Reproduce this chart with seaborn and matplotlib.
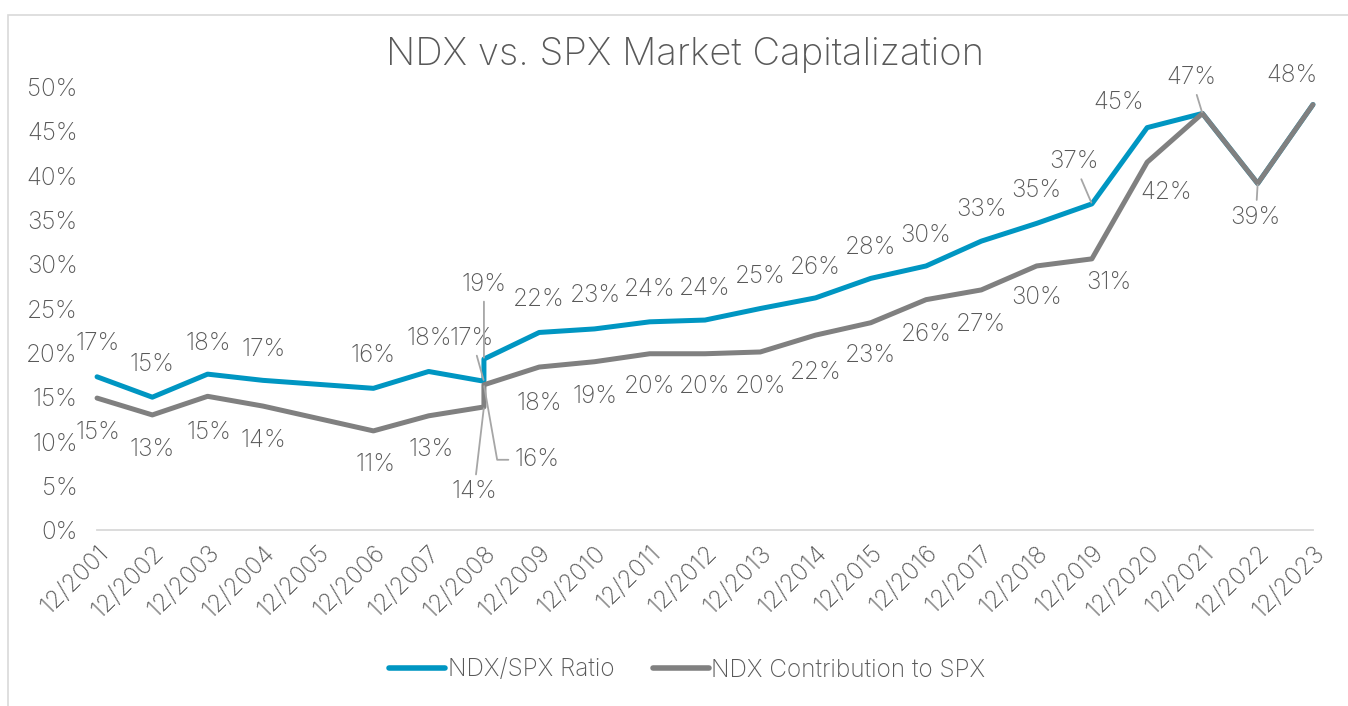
import numpy as np
import pandas as pd
import matplotlib
matplotlib.use("Agg")
import matplotlib.pyplot as plt
import seaborn as sns
from matplotlib.patches import Rectangle
from matplotlib.lines import Line2D

# ─── Данные ──────────────────────────────────────────────────────────────────────
dates = ["12/2001", "12/2002", "12/2003", "12/2004", "12/2006", "12/2007",
         "12/2008", "12/2008", "12/2009", "12/2010", "12/2011", "12/2012",
         "12/2013", "12/2014", "12/2015", "12/2016", "12/2017", "12/2018",
         "12/2019", "12/2020", "12/2021", "12/2022", "12/2023"]
ratio = [17.3, 15.0, 17.6, 16.9, 16.0, 17.9, 16.8, 19.3, 22.3, 22.7, 23.5, 23.7,
         25.0, 26.2, 28.4, 29.8, 32.6, 34.6, 36.8, 45.4, 47.0, 39.1, 48.0]
contribution = [14.9, 13.0, 15.1, 14.0, 11.2, 12.9, 13.9, 16.4, 18.4, 19.0, 19.9, 19.9,
                20.1, 22.0, 23.4, 26.0, 27.1, 29.8, 30.6, 41.5, 47.0, 39.1, 48.0]
tick_labels = [f"12/{y}" for y in range(2001, 2024)]
series_names = ["NDX/SPX Ratio", "NDX Contribution to SPX"]

BLUE = "#0096c2"
GRAY = "#808080"
TEXT = "#595959"
LEADER = "#a6a6a6"
FS = 17.5

# ─── Стиль ───────────────────────────────────────────────────────────────────────
sns.set_style("white")
plt.rcParams["font.family"] = ["Inter", "DejaVu Sans"]
plt.rcParams["font.weight"] = "light"
plt.rcParams["text.color"] = TEXT

years = [int(d.split("/")[1]) for d in dates]
df = pd.concat([
    pd.DataFrame({"year": years, "value": np.array(ratio) / 100, "series": series_names[0]}),
    pd.DataFrame({"year": years, "value": np.array(contribution) / 100, "series": series_names[1]}),
])

fig = plt.figure(figsize=(13.48, 7.06), dpi=100)
ax = fig.add_axes([0.072, 0.249, 0.902, 0.628])

sns.lineplot(data=df, x="year", y="value", hue="series", estimator=None, sort=False,
             palette={series_names[0]: BLUE, series_names[1]: GRAY},
             linewidth=3.6, ax=ax, legend=False,
             solid_capstyle="round", solid_joinstyle="round")

ax.set_xlim(2001, 2023)
ax.set_ylim(0, 0.5)
ax.set_xticks(range(2001, 2024))
ax.set_xticklabels(tick_labels, rotation=45, ha="right", rotation_mode="anchor",
                   fontsize=FS, color=TEXT)
yt = np.arange(0, 0.51, 0.05)
ax.set_yticks(yt)
ax.set_yticklabels([f"{int(round(v * 100))}%" for v in yt], fontsize=FS, color=TEXT)
ax.tick_params(axis="y", length=0, pad=14)
ax.tick_params(axis="x", length=0, pad=8)
ax.set_xlabel("")
ax.set_ylabel("")
for s in ["top", "right", "left"]:
    ax.spines[s].set_visible(False)
ax.spines["bottom"].set_color("#d9d9d9")
ax.spines["bottom"].set_linewidth(1.3)
for ln in ax.get_lines():
    ln.set_clip_on(False)

# ─── Подписи данных (смещения в пикселях; None — без подписи) ────────────────────
blue_off = [(1, 33), (0, 33), (1, 31), (1, 31), (0, 33), (1, 33), (-12, 43), (0, 75),
            (0, 33), (1, 33), (0, 32), (0, 32), (0, 32), (0, 30), (0, 31), (0, 30),
            (0, 32), (0, 33), (-18, 42), (-28, 25), (-11, 36), None, (-21, 29)]
blue_lead = {6, 7, 18, 20}
gray_off = [(1, -34), (0, -35), (1, -36), (1, -34), (2, -34), (2, -34), (-10, -85), (53, -75),
            (0, -36), (1, -35), (0, -33), (0, -33), (0, -35), (0, -37), (0, -33), (0, -35),
            (0, -35), (0, -32), (17, -24), (19, -30), None, (-2, -34), None]
gray_lead = {6, 7, 21}


def label_series(vals, offsets, leaders):
    for i, (yr, v) in enumerate(zip(years, vals)):
        off = offsets[i]
        if off is None:
            continue
        arrow = None
        if i in leaders:
            cs = "angle,angleA=0,angleB=100,rad=0" if off[0] > 30 else "arc3"
            arrow = dict(arrowstyle="-", color=LEADER, lw=1.3, shrinkA=2, shrinkB=1,
                         connectionstyle=cs)
        ax.annotate(f"{round(v)}%", xy=(yr, v / 100), xytext=off,
                    textcoords="offset pixels", ha="center", va="center",
                    fontsize=FS, color=TEXT, arrowprops=arrow, annotation_clip=False)


label_series(ratio, blue_off, blue_lead)
label_series(contribution, gray_off, gray_lead)

# ─── Легенда ─────────────────────────────────────────────────────────────────────
handles = [Line2D([0], [0], color=BLUE, lw=4, solid_capstyle="round"),
           Line2D([0], [0], color=GRAY, lw=4, solid_capstyle="round")]
leg = fig.legend(handles, series_names, loc="center", bbox_to_anchor=(0.51, 0.051),
                 ncol=2, frameon=False, fontsize=FS, handlelength=2.3,
                 handletextpad=0.1, columnspacing=1.6)
for t in leg.get_texts():
    t.set_color(TEXT)

fig.text(0.508, 0.922, "NDX vs. SPX Market Capitalization", ha="center", va="center",
         fontsize=27.5, color=TEXT)

fig.patches.append(Rectangle((8 / 1348, -0.05), 1.0, 1 - 15 / 706 + 0.05,
                             transform=fig.transFigure, fill=False,
                             edgecolor="#d9d9d9", lw=1.2))

fig.savefig("out.png", dpi=100, facecolor="white")
